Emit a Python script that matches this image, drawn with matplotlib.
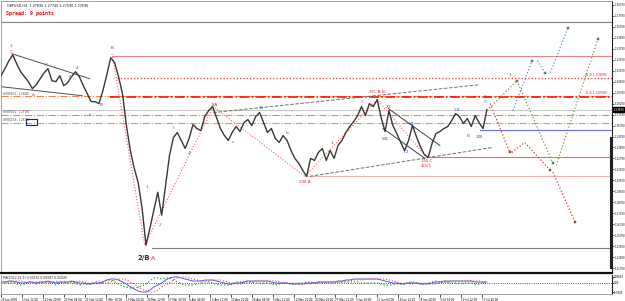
import numpy as np
import matplotlib.pyplot as plt
from matplotlib.patches import Rectangle
from matplotlib.transforms import blended_transform_factory

# GBPUSD H4 closes, one value every 6 bars
close = [1.3109, 1.3179, 1.3259, 1.3319, 1.3229, 1.3149, 1.3099, 1.3049, 1.2979, 1.3019,
         1.3079, 1.3139, 1.3179, 1.3059, 1.3049, 1.3109, 1.3009, 1.3039, 1.3099, 1.3149,
         1.3099, 1.3009, 1.2929, 1.2849, 1.2849, 1.2829, 1.2959, 1.3119, 1.3289, 1.3239,
         1.3099, 1.2929, 1.2609, 1.2359, 1.2179, 1.2039, 1.1779, 1.1409, 1.1579, 1.1759,
         1.1939, 1.1709, 1.2009, 1.2309, 1.2489, 1.2539, 1.2459, 1.2379, 1.2479, 1.2619,
         1.2579, 1.2559, 1.2699, 1.2759, 1.2799, 1.2689, 1.2579, 1.2509, 1.2459, 1.2539,
         1.2599, 1.2549, 1.2639, 1.2669, 1.2609, 1.2699, 1.2739, 1.2639, 1.2539, 1.2579,
         1.2479, 1.2439, 1.2509, 1.2459, 1.2359, 1.2279, 1.2229, 1.2159, 1.2099, 1.2279,
         1.2259, 1.2339, 1.2379, 1.2259, 1.2359, 1.2279, 1.2409, 1.2459, 1.2539, 1.2599,
         1.2649, 1.2709, 1.2799, 1.2709, 1.2829, 1.2799, 1.2869, 1.2689, 1.2549, 1.2759,
         1.2609, 1.2529, 1.2439, 1.2359, 1.2459, 1.2609, 1.2499, 1.2399, 1.2319, 1.2289,
         1.2429, 1.2529, 1.2549, 1.2579, 1.2599, 1.2659, 1.2729, 1.2699, 1.2629, 1.2679,
         1.2599, 1.2709, 1.2639, 1.2579, 1.2769]
bar_step = 6

macd_main = [1, 1, 2, 2, 1, 0, 0, 1, 1, 0, 1, 1, 2, 1, 0, 1, 1, 1, 2, 1, 0, 0, -1, -1, 0, 0,
             1, 3, 4, 4, 3, 1, -1, -4, -6, -8, -9, -9, -7, -4, -2, 0, 3, 5, 6, 6,
             5, 4, 3, 2, 2, 2, 3, 3, 3, 2, 1, 0, -1, -1, 0, 0, 1, 2, 2, 2,
             2, 2, 2, 1, 0, 0, 0, 0, -1, -1, -1, -1, 0, 0, 0, 1, 1, 1, 1, 1,
             2, 2, 3, 3, 4, 4, 4, 4, 4, 4, 4, 3, 2, 1, 0, 0, -1, -1, 0, 0,
             0, -1, -1, -1, 0, 1, 1, 2, 2, 2, 2, 2, 2, 2, 2, 1, 1, 1, 1]
macd_signal = [1, 1, 1, 1, 2, 2, 1, 0, 0, 1, 1, 0, 1, 1, 2, 1, 0, 1, 1, 1, 2, 1, 0, 0, -1, -1,
               0, 0, 1, 3, 4, 4, 3, 1, -1, -4, -6, -8, -9, -9, -7, -4, -2, 0, 3, 5,
               6, 6, 5, 4, 3, 2, 2, 2, 3, 3, 3, 2, 1, 0, -1, -1, 0, 0, 1, 2,
               2, 2, 2, 2, 2, 1, 0, 0, 0, 0, -1, -1, -1, -1, 0, 0, 0, 1, 1, 1,
               1, 1, 2, 2, 3, 3, 4, 4, 4, 4, 4, 4, 4, 3, 2, 1, 0, 0, -1, -1,
               0, 0, 0, -1, -1, -1, 0, 1, 1, 2, 2, 2, 2, 2, 2, 2, 2, 1, 1]
macd_unit = 0.001

date_labels = ["29 Jan 2020", "5 Feb 12:00", "12 Feb 20:00", "20 Feb 04:00", "27 Feb 12:00",
               "5 Mar 20:00", "13 Mar 04:00", "20 Mar 12:00", "27 Mar 20:00", "6 Apr 04:00",
               "13 Apr 12:00", "20 Apr 20:00", "28 Apr 04:00", "5 May 12:00", "12 May 20:00",
               "20 May 04:00", "27 May 12:00", "3 Jun 20:00", "11 Jun 04:00", "18 Jun 12:00",
               "25 Jun 20:00", "3 Jul 04:00", "10 Jul 12:00", "17 Jul 20:00"]
date_step = 32

# horizontal levels: (price, start bar, color, style, width)
levels = [(1.3649, 0, '#808080', '-', 0.8),
          (1.3309, 170, '#f08080', '-', 0.8),
          (1.3089, 178, '#ff3030', ':', 0.9),
          (1.2904, 0, '#ff8040', '-.', 0.8),
          (1.2899, 167, '#ff0000', '-.', 1.1),
          (1.2769, 0, '#c8c8c8', '-', 0.8),
          (1.2719, 0, '#ff8040', '-.', 0.8),
          (1.2639, 0, '#80c080', '-.', 0.8),
          (1.2569, 733, '#6070ff', '-', 0.8),
          (1.2289, 652, '#ff6060', '-', 0.8),
          (1.2099, 465, '#ffb0b0', '-', 0.8),
          (1.1379, 231, '#808080', '-', 0.8)]

# trendlines: (bar0, price0, bar1, price1, color, style)
trendlines = [(17, 1.3329, 136, 1.3079, '#505050', '-'),
              (0, 1.2999, 124, 1.2909, '#505050', '-'),
              (325, 1.2739, 733, 1.3019, '#707070', '--'),
              (473, 1.2099, 752, 1.2389, '#707070', '--'),
              (593, 1.2779, 672, 1.2409, '#404040', '-'),
              (585, 1.2579, 649, 1.2279, '#404040', '-')]

# wave zigzag (red dotted)
zig_bars = [170, 220, 325, 465, 576, 652]
zig_prices = [1.3329, 1.1409, 1.2799, 1.2099, 1.2869, 1.2289]

# projected paths: (bar0, price0, bar1, price1, color, end mark)
projections = [(784, 1.2759, 813, 1.3259, '#5090e0', True),
               (821, 1.3259, 833, 1.3139, '#5090e0', True),
               (841, 1.3139, 868, 1.3589, '#5090e0', True),
               (744, 1.2759, 790, 1.3059, '#60a040', True),
               (790, 1.3059, 845, 1.2229, '#60a040', True),
               (850, 1.2209, 914, 1.3479, '#60a040', True),
               (749, 1.2829, 779, 1.2339, '#e03030', True),
               (782, 1.2339, 802, 1.2439, '#e03030', False),
               (802, 1.2439, 841, 1.2159, '#e03030', True),
               (845, 1.2139, 879, 1.1639, '#e03030', True)]

mag, grn, blu, red = '#e040e0', '#2e8b2e', '#3050d0', '#e02020'
waves = [("2", grn, 15, 1.3409), ("C", mag, 15, 1.3349), ("B", mag, 69, 1.3219),
         ("A", mag, 49, 1.2919), ("A", mag, 106, 1.3099), ("4", grn, 116, 1.3189),
         ("C", mag, 136, 1.2859), ("5", grn, 136, 1.2719), ("B", blu, 153, 1.2819),
         ("B", red, 170, 1.3389), ("1", blu, 224, 1.1989), ("2", grn, 243, 1.1609),
         ("3", mag, 263, 1.2589), ("4", grn, 288, 1.2329), ("3/A", red, 326, 1.2819),
         ("c", grn, 355, 1.2439), ("B", blu, 398, 1.2789), ("b", grn, 438, 1.2539),
         ("2/B A", red, 465, 1.2039), ("1", grn, 507, 1.2429), ("3", mag, 553, 1.2849),
         ("3/C B B", red, 576, 1.2949), ("X2", blu, 594, 1.2799), ("W1", blu, 588, 1.2469),
         ("Y2", blu, 619, 1.2339), ("X4", blu, 629, 1.2629), ("2/4 C", red, 652, 1.2249),
         ("4/2/1", red, 652, 1.2199), ("Y4", blu, 698, 1.2769), ("B", grn, 715, 1.2509),
         ("2/B", blu, 733, 1.2489), ("2", red, 741, 1.2899), ("C", blu, 741, 1.2849),
         ("1", red, 779, 1.3119)]

fig = plt.figure(figsize=(6.25, 3.01), dpi=100)
ax = fig.add_axes([1/625, 1 - 273/301, 611/625, 272/301])
ax2 = fig.add_axes([1/625, 1 - 294/301, 611/625, 19/301])

xmax = 935.5
bars = np.arange(len(close)) * bar_step

for p, b0, c, ls, lw in levels:
    ax.plot([b0, xmax], [p, p], color=c, ls=ls, lw=lw, zorder=1)

for b0, p0, b1, p1, c, ls in trendlines:
    ax.plot([b0, b1], [p0, p1], color=c, ls=ls, lw=0.7, zorder=2)

ax.plot(zig_bars, zig_prices, color='#ff6060', ls=':', lw=0.8, zorder=2)

ax.plot(bars, close, color='#383838', lw=1.0, zorder=3)

for b0, p0, b1, p1, c, mark in projections:
    ax.plot([b0, b1], [p0, p1], color=c, ls=':', lw=0.9, zorder=3)
    if mark:
        ax.plot(b1, p1, marker='s', ms=2, color=c, mec='#505050', mew=0.3, zorder=4)

for t, c, b, p in waves:
    ax.text(b, p, t, color=c, fontsize=3.2, ha='center', va='center', zorder=5)
ax.text(218, 1.1279, "2/B", color='#303030', fontsize=5, ha='center', va='center',
        fontweight='bold')
ax.text(233, 1.1279, "A", color=red, fontsize=4.5, ha='center', va='center')

# fib labels on the right
ax.text(930, 1.3089 + 0.0012, "61.8(1.30890)", color='#ff2020', fontsize=2.3,
        ha='right', va='bottom')
ax.text(930, 1.2899 + 0.0012, "76.4(1.28990)", color='#ff2020', fontsize=2.3,
        ha='right', va='bottom')

# object labels on the left
for p, t in [(1.2904, "#FIBO50.0 - 1.29040"), (1.2719, "#FIBO38.2 - 1.27190"),
             (1.2639, "#FIBO23.6 - 1.26390")]:
    ax.text(3, p + 0.0006, t, color='#404040', fontsize=1.8, ha='left', va='bottom')
ax.add_patch(Rectangle((38, 1.2619), 17, 0.006, fill=False, ec='#202080', lw=0.8, zorder=5))

# header
ax.text(0.01, 0.988, "GBPUSD,H4  1.27690 1.27740 1.27590 1.27690", transform=ax.transAxes,
        fontsize=2.4, color='#202020', va='top')
ax.text(0.008, 0.962, "Spread: 9 points", transform=ax.transAxes, fontsize=3.6,
        color='#ff0000', va='top', fontweight='bold', family='DejaVu Sans Mono')

ax.set_xlim(0, xmax)
ax.set_ylim(1.1129, 1.3859)
ax.set_xticks([])
ax.yaxis.tick_right()
ticks = 1.1179 + 0.011 * np.arange(25)
ax.set_yticks(ticks)
ax.set_yticklabels(["%.5f" % t for t in ticks])
ax.tick_params(axis='y', labelsize=1.9, length=1.2, width=0.5, pad=0.5, colors='#202020')
for s in ['left', 'top']:
    ax.spines[s].set_color('#909090')
    ax.spines[s].set_linewidth(0.6)
ax.spines['right'].set_color('#202020')
ax.spines['right'].set_linewidth(0.8)
ax.spines['bottom'].set_color('#101010')
ax.spines['bottom'].set_linewidth(1.6)
# thick scale marker at right edge
ax.plot([xmax - 2, xmax - 2], [1.1179, 1.2479], color='#202020', lw=1.5, zorder=4)

# current price box
tr = blended_transform_factory(ax.transAxes, ax.transData)
ax.text(1.002, close[-1], "%.5f" % close[-1], transform=tr, fontsize=1.9, color='white',
        va='center', ha='left', bbox=dict(boxstyle='square,pad=0.1', fc='black', ec='black'))

# MACD panel
mbars = np.arange(len(macd_main)) * bar_step
sbars = np.arange(len(macd_signal)) * bar_step
main = np.array(macd_main) * macd_unit
sig = np.array(macd_signal) * macd_unit
n = min(len(main), len(sig))
hist = main[:n] - sig[:n]
ax2.axhline(0, color='#202020', ls=':', lw=0.6)
ax2.plot(mbars[:n], hist, color='#20a020', ls=':', lw=0.9)
ax2.plot(mbars, main, color='#4040ff', lw=0.6)
ax2.plot(sbars, sig, color='#ff4040', ls=':', lw=0.8)
ax2.text(0.004, 0.93, "MACD(12,26,9) 0.00132 0.00087 0.00045", transform=ax2.transAxes,
         fontsize=2.2, color='#202020', va='top')
ax2.set_xlim(0, xmax)
ax2.set_ylim(-0.011, 0.008)
ax2.yaxis.tick_right()
ax2.set_yticks([0.006, 0.0, -0.009])
ax2.set_yticklabels(["0.00853", "0.00", "-0.0105"])
ax2.tick_params(axis='y', labelsize=1.8, length=1.2, width=0.5, pad=0.5)
dticks = np.arange(len(date_labels)) * date_step
ax2.set_xticks(dticks)
ax2.set_xticklabels(date_labels, ha='left')
ax2.tick_params(axis='x', labelsize=2.0, length=2, width=0.5, pad=1)
for s in ['left', 'top', 'bottom']:
    ax2.spines[s].set_color('#909090')
    ax2.spines[s].set_linewidth(0.6)
ax2.spines['top'].set_visible(False)
ax2.spines['right'].set_color('#202020')

fig.savefig("out.png", dpi=100, facecolor='white')
